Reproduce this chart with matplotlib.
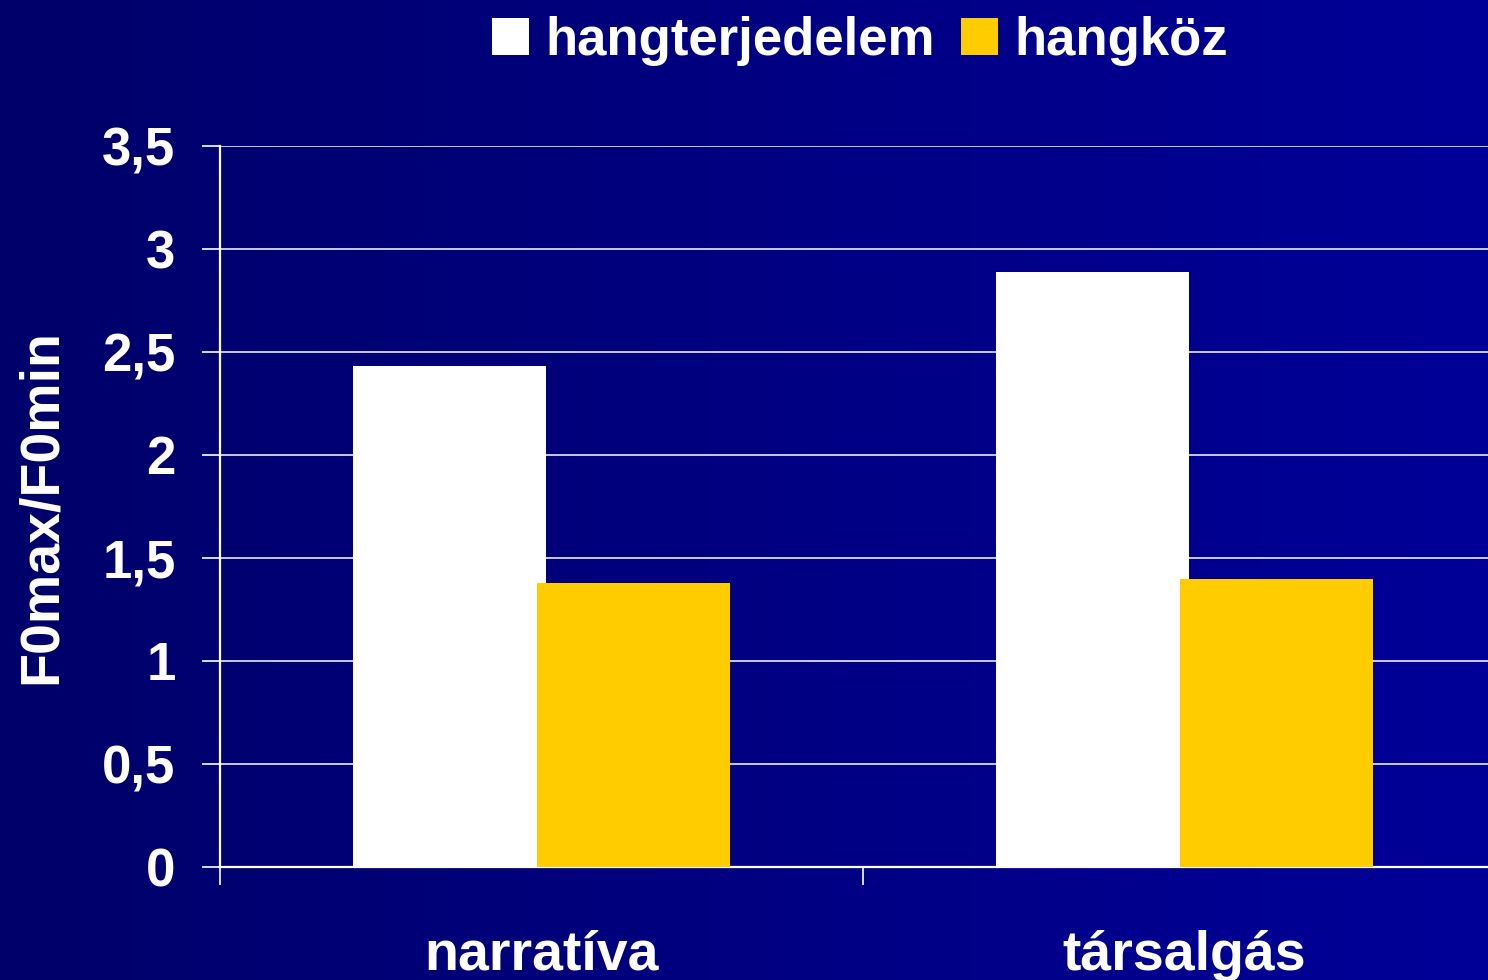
import matplotlib
matplotlib.use('Agg')
import matplotlib.pyplot as plt
from matplotlib.patches import Rectangle
from matplotlib.colors import LinearSegmentedColormap
import numpy as np

categories = ['narratíva', 'társalgás']
series_names = ['hangterjedelem', 'hangköz']
hangterjedelem = [2.43, 2.89]
hangkoz = [1.38, 1.40]
yticks = [0, 0.5, 1, 1.5, 2, 2.5, 3, 3.5]
ytick_labels = ['0', '0,5', '1', '1,5', '2', '2,5', '3', '3,5']

plt.rcParams['font.family'] = ['Liberation Sans', 'DejaVu Sans']
plt.rcParams['font.weight'] = 'bold'

fig = plt.figure(figsize=(14.88, 9.8), dpi=100)

# background gradient, dark navy on the left to brighter blue on the right
bg = fig.add_axes([0, 0, 1, 1], zorder=-10)
cmap = LinearSegmentedColormap.from_list('bg', ['#00006A', '#000098'])
bg.imshow(np.linspace(0, 1, 256).reshape(1, -1), aspect='auto', cmap=cmap,
          extent=[0, 1, 0, 1])
bg.axis('off')

ax = fig.add_axes([220/1488, 1-867/980, (1506-220)/1488, (867-146)/980])
ax.patch.set_alpha(0)

x = np.arange(len(categories)) + 0.5
w = 0.3
off = 0.143
ax.bar(x - off, hangterjedelem, w, color='white', zorder=3)
ax.bar(x + off, hangkoz, w, color='#FFCC00', zorder=4)

ax.set_xlim(0, len(categories))
ax.set_ylim(0, 3.5)
ax.set_yticks(yticks)
ax.set_yticklabels(ytick_labels)
ax.yaxis.grid(True, color='white', linewidth=1.1, zorder=1)

ax.set_xticks(np.arange(len(categories) + 1))
ax.set_xticklabels([])
ax.set_xticks(x, minor=True)
ax.set_xticklabels(categories, minor=True)
ax.tick_params(axis='x', which='major', length=13, width=1.2, color='white', direction='out')
ax.tick_params(axis='x', which='minor', length=0, pad=45, labelsize=40, labelcolor='white')
ax.tick_params(axis='y', length=13, width=1.2, color='white', pad=19,
               labelsize=38, labelcolor='white')

for s in ['top', 'right']:
    ax.spines[s].set_visible(False)
for s in ['left', 'bottom']:
    ax.spines[s].set_color('white')
    ax.spines[s].set_linewidth(1.6)

ax.set_ylabel('F0max/F0min', fontsize=40, color='white', fontweight='bold', va='center')
ax.yaxis.set_label_coords((42 - 220) / 1286, 0.5)

handles = [Rectangle((0, 0), 1, 1, facecolor='white'),
           Rectangle((0, 0), 1, 1, facecolor='#FFCC00')]
leg = fig.legend(handles, series_names, loc='center', ncol=2, frameon=False,
                 bbox_to_anchor=(860/1488, 1-41/980), fontsize=38,
                 handlelength=0.7, handleheight=0.7, handletextpad=0.3,
                 columnspacing=0.5)
for t in leg.get_texts():
    t.set_color('white')

fig.savefig('out.png', dpi=100)
